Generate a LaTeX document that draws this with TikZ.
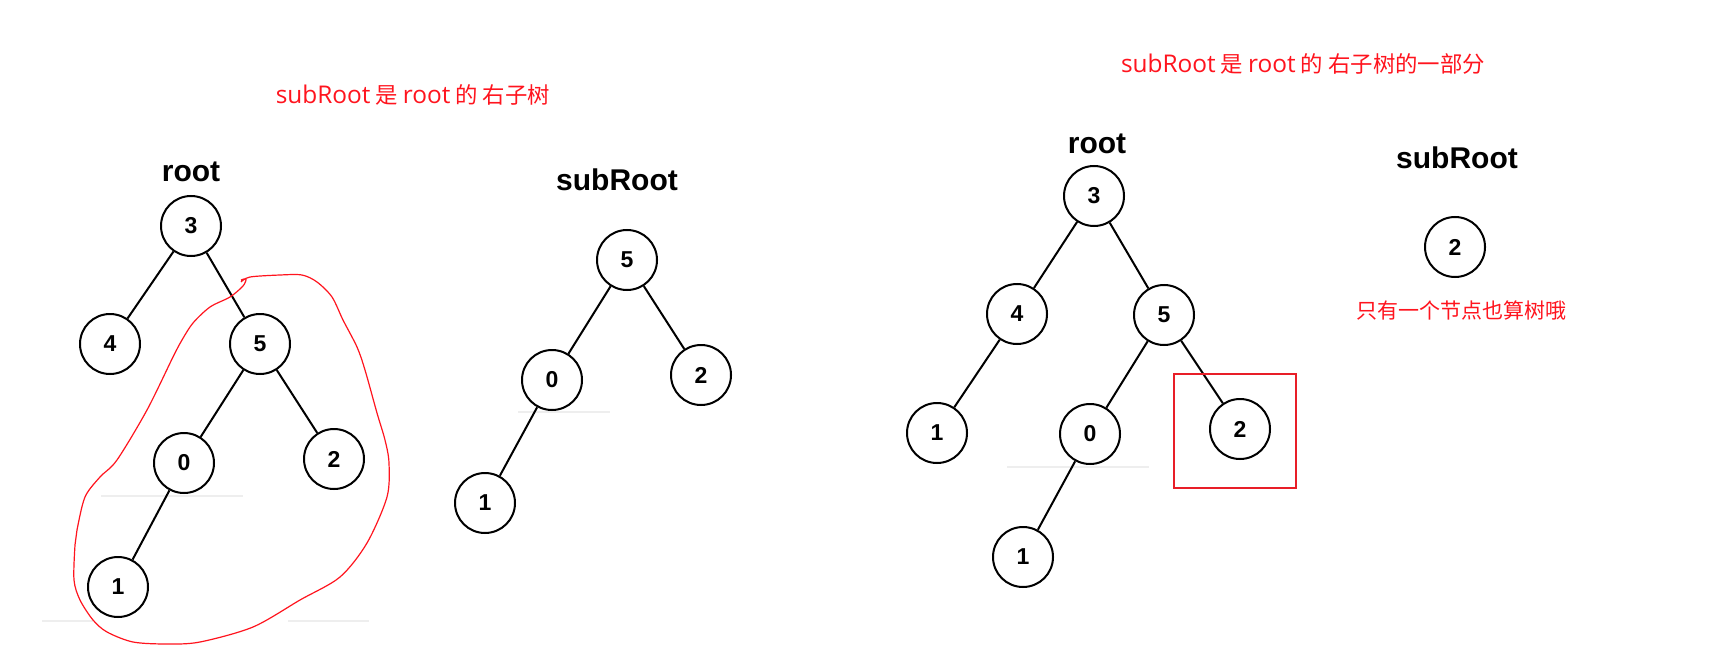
\documentclass[tikz,border=0pt]{standalone}
\usepackage{fontspec}
\setmainfont{Liberation Sans}
\newfontfamily\cjk{Noto Sans CJK SC}
\newfontfamily\latf{Open Sans}
\newcommand\latpart[1]{{\latf\fontsize{12.2pt}{14pt}\selectfont #1}}
\definecolor{txtred}{RGB}{255,20,30}
\definecolor{boxred}{RGB}{232,30,40}
\definecolor{faint}{RGB}{238,238,238}
\begin{document}
\begin{tikzpicture}[x=0.5pt,y=-0.5pt,
  tn/.style={circle,draw=black,line width=1pt,minimum size=30pt,inner sep=0pt,font=\bfseries\fontsize{11.5pt}{13pt}\selectfont},
  lbl/.style={font=\bfseries\fontsize{15pt}{17pt}\selectfont},
  note/.style={text=txtred,font=\cjk\fontsize{11.2pt}{13pt}\selectfont,inner sep=0pt},
  small/.style={text=txtred,font=\cjk\fontsize{10.5pt}{12pt}\selectfont,inner sep=0pt},
  edge/.style={line width=1pt},
  art/.style={draw=faint,line width=1pt}]
\useasboundingbox[fill=white] (0,0) rectangle (1711,668);

% faint artifacts
\draw[art] (101,496) -- (243,496);
\draw[art] (42,621) -- (93,621);
\draw[art] (288,621) -- (369,621);
\draw[art] (518,412) -- (610,412);
\draw[art] (1007,467) -- (1149,467);

% ---------- left panel ----------
\node[note] (t1) at (413,95) {\latpart{subRoot} 是 \latpart{root} 的 右子树};
\node[lbl] (r1) at (191,172) {root};
\node[tn] (a3) at (191,226) {3};
\node[tn] (a4) at (110,344) {4};
\node[tn] (a5) at (260,344) {5};
\node[tn] (a0) at (184,463) {0};
\node[tn] (a2) at (334,459) {2};
\node[tn] (a1) at (118,587) {1};
\draw[edge] (a3) -- (a4);
\draw[edge] (a3) -- (a5);
\draw[edge] (a5) -- (a0);
\draw[edge] (a5) -- (a2);
\draw[edge] (a0) -- (a1);

% red freehand loop
\draw[txtred,line width=0.6pt] plot[smooth,tension=0.5] coordinates {
 (241,282) (250,277) (280,275) (302,275) (317,282) (332,297) (343,320)
 (357,347) (365,370) (377,413) (385,440) (389,463) (387,497) (367,543)
 (340,577) (300,600) (253,627) (200,642) (167,644) (133,642) (107,632)
 (93,620) (80,600) (74,580) (75,545) (77,530) (85,497) (100,477) (117,460)
 (147,410) (173,357) (182,340) (193,323) (210,307) (230,297) (243,286)
 (246,279) (241,280)};

% ---------- middle panel ----------
\node[lbl] (s1) at (617,180) {subRoot};
\node[tn] (b5) at (627,260) {5};
\node[tn] (b0) at (552,380) {0};
\node[tn] (b2) at (701,375) {2};
\node[tn] (b1) at (485,503) {1};
\draw[edge] (b5) -- (b0);
\draw[edge] (b5) -- (b2);
\draw[edge] (b0) -- (b1);

% ---------- right panel ----------
\node[note] (t2) at (1303,64) {\latpart{subRoot} 是 \latpart{root} 的 右子树的一部分};
\node[lbl] (r2) at (1097,144) {root};
\node[tn] (c3) at (1094,196) {3};
\node[tn] (c4) at (1017,314) {4};
\node[tn] (c5) at (1164,315) {5};
\node[tn] (c1) at (937,433) {1};
\node[tn] (c0) at (1090,434) {0};
\node[tn] (c2) at (1240,429) {2};
\node[tn] (c1b) at (1023,557) {1};
\draw[edge] (c3) -- (c4);
\draw[edge] (c3) -- (c5);
\draw[edge] (c4) -- (c1);
\draw[edge] (c5) -- (c0);
\draw[edge] (c5) -- (c2);
\draw[edge] (c0) -- (c1b);
\node[draw=boxred,line width=1.4pt,minimum width=61pt,minimum height=57pt,inner sep=0pt] (box) at (1235,431) {};

\node[lbl] (s2) at (1457,158) {subRoot};
\node[tn] (d2) at (1455,247) {2};
\node[small] (t3) at (1461,310) {只有一个节点也算树哦};
\end{tikzpicture}
\end{document}
